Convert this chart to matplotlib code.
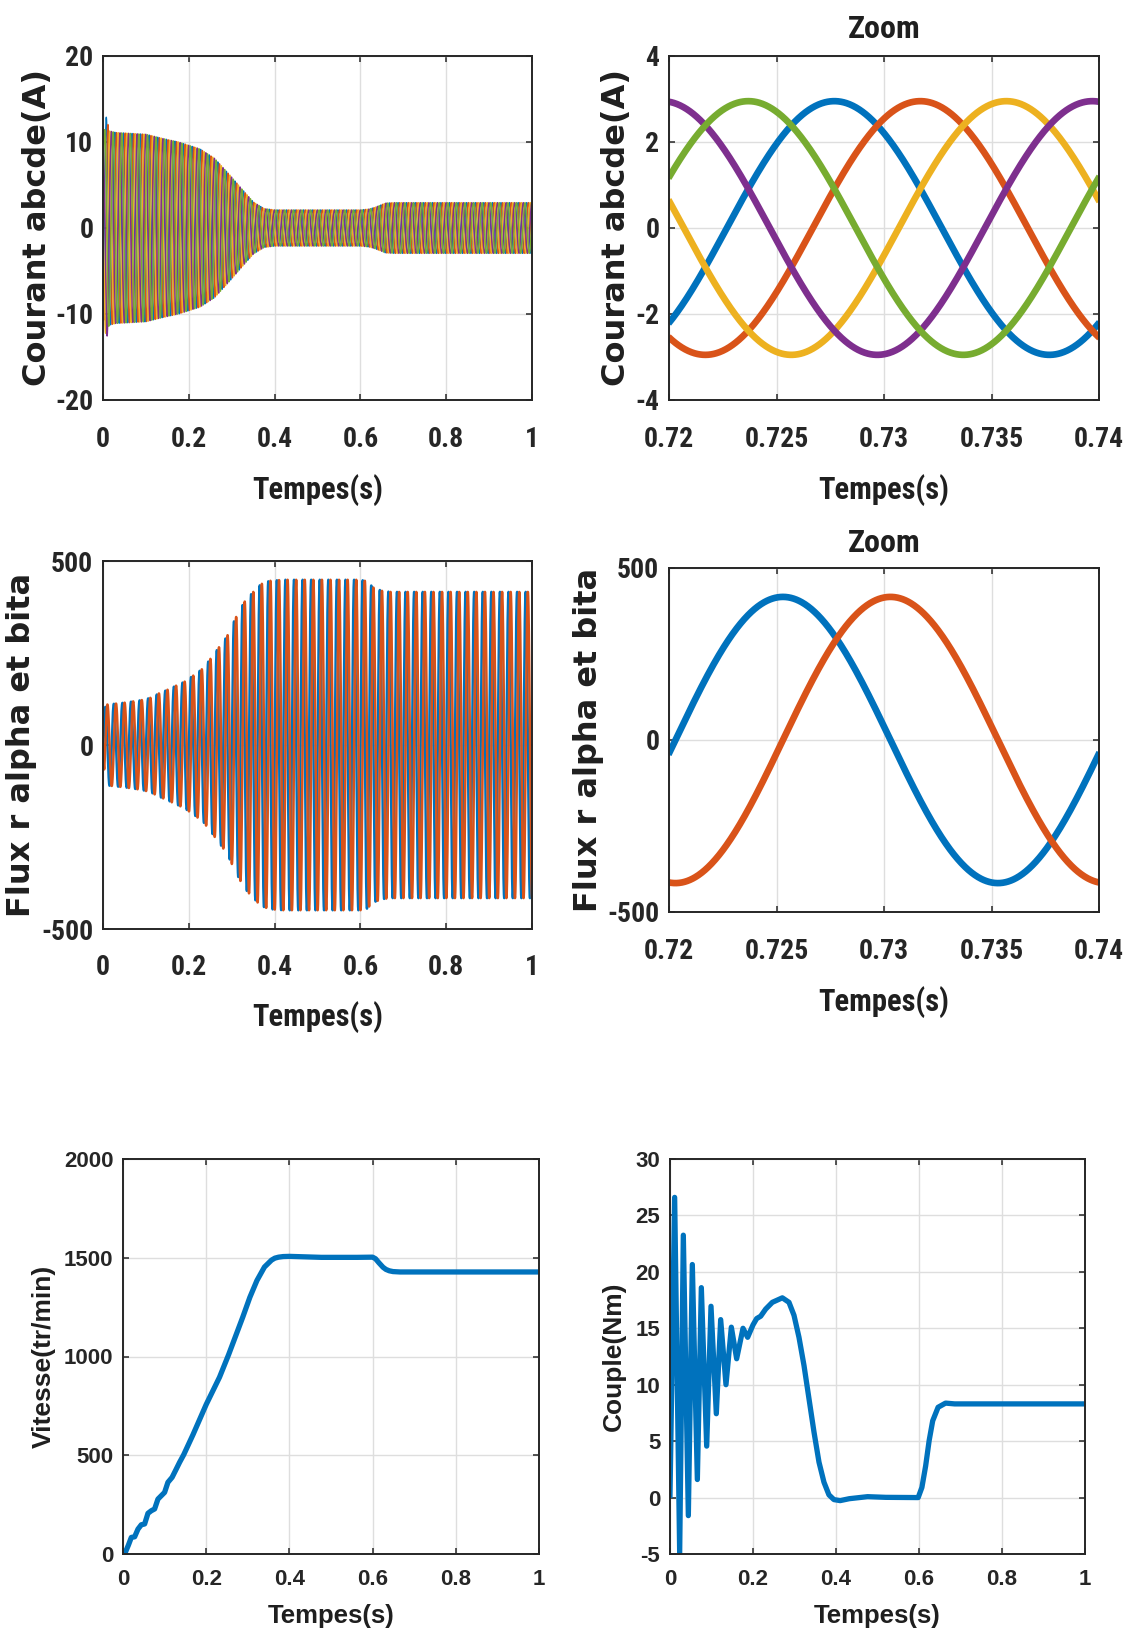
import numpy as np
import matplotlib
matplotlib.use("Agg")
import matplotlib.pyplot as plt
from matplotlib import font_manager

W, H, DPI = 1128, 1634, 100


def pick_bold_family(candidates, default):
    bold = {f.name for f in font_manager.fontManager.ttflist if f.weight in (700, "bold")}
    for name in candidates:
        if name in bold:
            return name
    return default


NARROW = pick_bold_family(["Roboto Condensed", "PT Sans Narrow", "Liberation Sans Narrow"], "Liberation Sans")
WIDE = "DejaVu Sans"
ARIAL = "Liberation Sans"

# ---------------- data ----------------
F_HZ = 50.0                       # supply frequency (Hz)

# stator current envelope (A), five phases shifted by 72 deg
t_env_i = [0.0, 0.004, 0.0075, 0.010, 0.014, 0.03, 0.10, 0.14, 0.176, 0.226, 0.26,
           0.293, 0.326, 0.351, 0.376, 0.40, 0.60, 0.62, 0.634, 0.659, 0.68, 1.0]
amp_i = [10.0, 11.5, 12.9, 12.5, 11.3, 11.1, 10.9, 10.4, 10.0, 9.2, 8.1,
         6.3, 4.4, 3.0, 2.25, 2.1, 2.1, 2.2, 2.4, 2.9, 2.95, 2.95]
peak_i = 0.00769                  # first crest of phase a (s)

# rotor flux envelope, alpha/beta components in quadrature
t_env_flux = [0.0, 0.003, 0.01, 0.05, 0.09, 0.11, 0.13, 0.15, 0.168, 0.19, 0.212, 0.233,
              0.251, 0.27, 0.289, 0.309, 0.329, 0.347, 0.368, 0.388, 0.42, 0.60, 0.615,
              0.63, 0.65, 0.67, 1.0]
amp_flux = [0, 100, 110, 115, 122, 128, 140, 150, 160, 172, 190, 208,
            235, 265, 295, 345, 388, 412, 437, 446, 449, 449, 445,
            428, 419, 416, 416]
peak_flux = 0.0053                # first crest of the alpha component (s)

# rotor speed (tr/min)
t_speed = [0.0, 0.005, 0.013, 0.02, 0.028, 0.036, 0.044, 0.052, 0.06, 0.068, 0.076,
           0.084, 0.092, 0.10, 0.108, 0.118, 0.128, 0.136, 0.146, 0.168, 0.20, 0.232,
           0.254, 0.271, 0.288, 0.305, 0.322, 0.34, 0.357, 0.365, 0.374, 0.385, 0.40,
           0.477, 0.563, 0.60, 0.607, 0.615, 0.625, 0.632, 0.64, 0.649, 0.666, 1.0]
speed = [0, 5, 45, 84, 87, 126, 148, 152, 206, 219, 228,
         278, 295, 312, 363, 388, 430, 464, 503, 603, 757, 895,
         1010, 1105, 1200, 1300, 1385, 1453, 1488, 1498, 1503, 1506, 1507,
         1502, 1502, 1503, 1495, 1475, 1452, 1441, 1434, 1430, 1428, 1428]

# electromagnetic torque (Nm)
t_torque = [0.0, 0.0112, 0.0233, 0.0321, 0.0442, 0.0538, 0.0659, 0.0755, 0.0884,
            0.0988, 0.1116, 0.1221, 0.1349, 0.1478, 0.1606, 0.1759, 0.1871, 0.20,
            0.2088, 0.2185, 0.2305, 0.2466, 0.2707, 0.2867, 0.2988, 0.3108, 0.3229,
            0.3349, 0.347, 0.359, 0.371, 0.383, 0.395, 0.41, 0.432, 0.476, 0.52,
            0.598, 0.607, 0.616, 0.6245, 0.633, 0.646, 0.664, 0.686, 1.0]
torque = [0.2, 26.6, -4.9, 23.25, -1.6, 20.65, 1.6, 18.6, 4.56,
          16.95, 7.43, 15.77, 10.0, 15.1, 12.3, 15.0, 14.2, 15.3,
          15.86, 16.07, 16.7, 17.3, 17.7, 17.3, 16.15, 14.2, 11.7,
          8.76, 5.8, 3.14, 1.36, 0.24, -0.18, -0.27, -0.1, 0.08, 0.02,
          0.0, 0.9, 2.8, 5.06, 6.8, 8.0, 8.37, 8.3, 8.3]

phase_colors = ["#0072BD", "#D95319", "#EDB120", "#7E2F8E", "#77AC30"]
flux_colors = ["#0072BD", "#D95319"]

time_ticks = [0, 0.2, 0.4, 0.6, 0.8, 1.0]
time_labels = ["0", "0.2", "0.4", "0.6", "0.8", "1"]
zoom_ticks = [0.72, 0.725, 0.73, 0.735, 0.74]
zoom_labels = ["0.72", "0.725", "0.73", "0.735", "0.74"]

# ---------------- signals ----------------
t = np.linspace(0.0, 1.0, 40001)
w = 2 * np.pi * F_HZ
env_i = np.interp(t, t_env_i, amp_i)
currents = [env_i * np.cos(w * (t - peak_i) - 2 * np.pi * k / 5) for k in range(5)]
env_f = np.interp(t, t_env_flux, amp_flux)
fluxes = [env_f * np.cos(w * (t - peak_flux) - np.pi / 2 * k) for k in range(2)]

# ---------------- figure ----------------
fig = plt.figure(figsize=(W / DPI, H / DPI), dpi=DPI)
fig.patch.set_facecolor("white")

AX_C = "#262626"
TXT_C = "#1f1f1f"
GRID_C = "#dedede"


def make_axes(left, top, right, bottom):
    return fig.add_axes([left / W, 1 - bottom / H, (right - left) / W, (bottom - top) / H])


def style(ax, xt, xl, yt, yl, tick_font, tick_size, xpad, ypad):
    ax.set_xticks(xt)
    ax.set_xticklabels(xl, fontfamily=tick_font, fontweight="bold", fontsize=tick_size, color=TXT_C)
    ax.set_yticks(yt)
    ax.set_yticklabels(yl, fontfamily=tick_font, fontweight="bold", fontsize=tick_size, color=TXT_C)
    ax.tick_params(direction="in", length=4, width=1.1, colors=AX_C, top=True, right=True)
    ax.tick_params(axis="x", pad=xpad)
    ax.tick_params(axis="y", pad=ypad)
    for s in ax.spines.values():
        s.set_color(AX_C)
        s.set_linewidth(1.4)
    ax.grid(True, color=GRID_C, linewidth=1.0)
    ax.set_axisbelow(True)


def labels(ax, xlabel, xfont, xsize, xy, ylabel, yfont, ysize, yx):
    ax.set_xlabel(xlabel, fontfamily=xfont, fontweight="bold", fontsize=xsize, color=TXT_C, va="center")
    ax.xaxis.set_label_coords(0.5, xy)
    ax.set_ylabel(ylabel, fontfamily=yfont, fontweight="bold", fontsize=ysize, color=TXT_C, va="center")
    ax.yaxis.set_label_coords(yx, 0.5)


# Currents, full run
ax1 = make_axes(103, 56, 532, 400)
for c, y in zip(phase_colors, currents):
    ax1.plot(t, y, color=c, lw=1.0)
ax1.set_xlim(0, 1)
ax1.set_ylim(-20, 20)
style(ax1, time_ticks, time_labels, [-20, -10, 0, 10, 20], ["-20", "-10", "0", "10", "20"],
      NARROW, 20, 19, 7)
labels(ax1, "Tempes(s)", NARROW, 22, -0.262, "Courant abcde(A)", WIDE, 23, -0.152)

# Currents, zoom
ax2 = make_axes(669, 56, 1099, 400)
for c, y in zip(phase_colors, currents):
    ax2.plot(t, y, color=c, lw=4.8, solid_capstyle="butt")
ax2.set_xlim(0.72, 0.74)
ax2.set_ylim(-4, 4)
style(ax2, zoom_ticks, zoom_labels, [-4, -2, 0, 2, 4], ["-4", "-2", "0", "2", "4"],
      NARROW, 20, 19, 7)
labels(ax2, "Tempes(s)", NARROW, 22, -0.262, "Courant abcde(A)", WIDE, 23, -0.123)
ax2.set_title("Zoom", fontfamily=NARROW, fontweight="bold", fontsize=23, color=TXT_C, pad=13)

# Rotor flux, full run
ax3 = make_axes(103, 561, 532, 929)
for c, y in zip(flux_colors, fluxes):
    ax3.plot(t, y, color=c, lw=1.8)
ax3.set_xlim(0, 1)
ax3.set_ylim(-500, 500)
style(ax3, time_ticks, time_labels, [-500, 0, 500], ["-500", "0", "500"], NARROW, 20, 18, 7)
labels(ax3, "Tempes(s)", NARROW, 22, -0.239, "Flux r alpha et bita", WIDE, 23, -0.189)

# Rotor flux, zoom
ax4 = make_axes(669, 568, 1099, 912)
for c, y in zip(flux_colors, fluxes):
    ax4.plot(t, y, color=c, lw=4.8, solid_capstyle="butt")
ax4.set_xlim(0.72, 0.74)
ax4.set_ylim(-500, 500)
style(ax4, zoom_ticks, zoom_labels, [-500, 0, 500], ["-500", "0", "500"], NARROW, 20, 19, 7)
labels(ax4, "Tempes(s)", NARROW, 22, -0.262, "Flux r alpha et bita", WIDE, 23, -0.188)
ax4.set_title("Zoom", fontfamily=NARROW, fontweight="bold", fontsize=23, color=TXT_C, pad=11.5)

# Speed
ax5 = make_axes(123, 1159, 539, 1554)
ax5.plot(t_speed, speed, color="#0072BD", lw=3.8)
ax5.set_xlim(0, 1)
ax5.set_ylim(0, 2000)
style(ax5, time_ticks, time_labels, [0, 500, 1000, 1500, 2000],
      ["0", "500", "1000", "1500", "2000"], ARIAL, 16, 11, 7)
labels(ax5, "Tempes(s)", ARIAL, 18.5, -0.157, "Vitesse(tr/min)", ARIAL, 19, -0.19)

# Torque
ax6 = make_axes(670, 1159, 1085, 1554)
ax6.plot(t_torque, torque, color="#0072BD", lw=3.8)
ax6.set_xlim(0, 1)
ax6.set_ylim(-5, 30)
style(ax6, time_ticks, time_labels, list(range(-5, 31, 5)),
      [str(v) for v in range(-5, 31, 5)], ARIAL, 16, 11, 7)
labels(ax6, "Tempes(s)", ARIAL, 18.5, -0.157, "Couple(Nm)", ARIAL, 19, -0.135)

fig.savefig("out.png", dpi=DPI, facecolor="white")
